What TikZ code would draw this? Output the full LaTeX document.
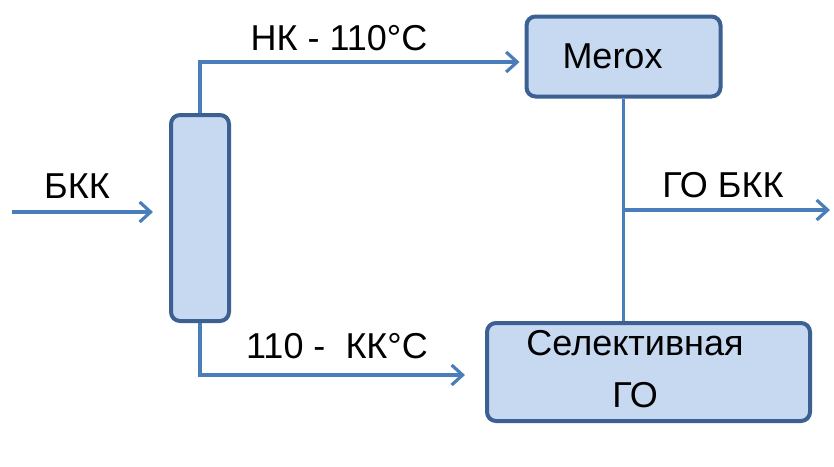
\documentclass[tikz,border=0pt]{standalone}
\usepackage{fontspec}
\setmainfont{Liberation Sans}
\usetikzlibrary{arrows.meta,calc}
\definecolor{boxfill}{HTML}{C6D9F1}
\definecolor{boxdraw}{HTML}{3B6091}
\definecolor{flow}{HTML}{4A7EBB}
\begin{document}
\begin{tikzpicture}[x=1pt,y=-1pt,
  unit/.style={draw=boxdraw, fill=boxfill, line width=4pt, rounded corners=9pt, inner sep=0pt},
  flowline/.style={draw=flow, line width=3.2pt},
  flowarrow/.style={flowline, -{Straight Barb[length=11pt,width=20pt,line width=3.2pt]}},
  lbl/.style={font=\fontsize{36}{52}\selectfont, inner sep=0pt}]
\useasboundingbox (0,0) rectangle (834,466);
% units
\node[unit, minimum width=58pt, minimum height=206pt] (col) at (200,218) {};
\node[unit, minimum width=194pt, minimum height=80pt,
      label={[lbl, xshift=-11pt]center:Merox}] (merox) at (623.5,56.5) {};
\node[unit, minimum width=323pt, minimum height=98pt] (sel) at (648.5,372) {};
\node[lbl, align=center] (seltext) at (635,369) {Селективная\\ГО};
% feed
\coordinate (feed) at (12,212);
\draw[flowarrow] (feed) -- ($(col.west |- feed)+(-16,0)$);
\node[lbl] (feedlbl) at (77,186) {БКК};
% top draw
\draw[flowarrow] (col.north) |- ($(merox.west)+(-5,5.5)$);
\node[lbl] (toplbl) at (339,38) {НК - 110°C};
% bottom draw
\draw[flowarrow] (col.south) |- ($(sel.west)+(-20,3)$);
\node[lbl] (botlbl) at (337,346) {110 -\ \ КК°C};
% product
\draw[flowline] (merox.south) -- (merox.south |- sel.north);
\coordinate (junc) at (merox.south |- 0,210);
\coordinate (out) at (830,210);
\draw[flowarrow] (junc) -- (out);
\node[lbl] (outlbl) at (723,185) {ГО БКК};
\end{tikzpicture}
\end{document}
